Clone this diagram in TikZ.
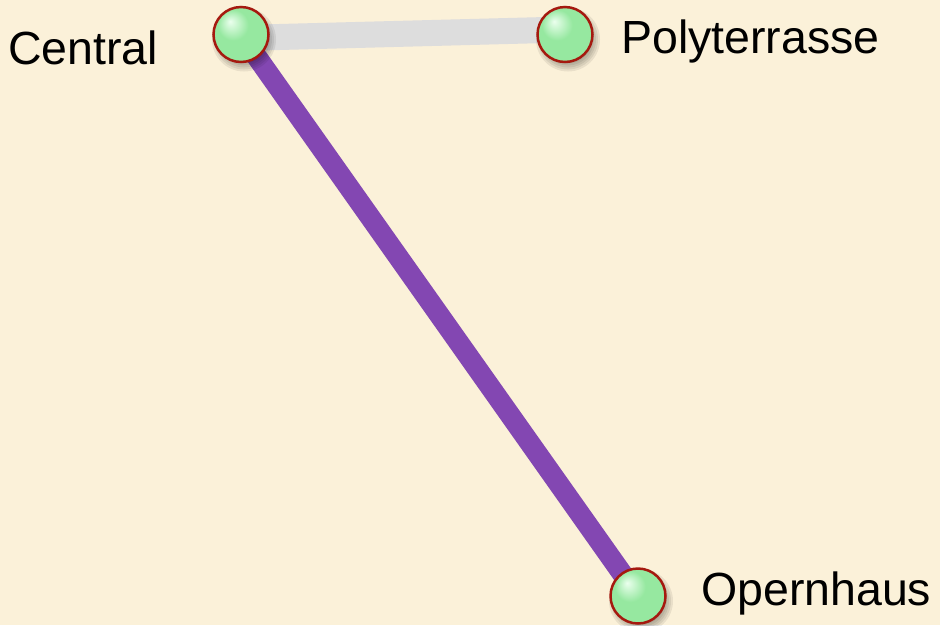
\documentclass[tikz,border=0pt]{standalone}
\usepackage{fontspec}
\setmainfont{Liberation Sans}
\definecolor{bgbeige}{RGB}{251,241,217}
\definecolor{ballG}{RGB}{150,232,160}
\definecolor{ballL}{RGB}{235,255,238}
\definecolor{ballD}{RGB}{125,210,140}
\definecolor{rimred}{RGB}{165,25,15}
\definecolor{purpleedge}{RGB}{131,71,178}
\definecolor{grayedge}{RGB}{221,221,221}
\pgfdeclareradialshading{greenball}{\pgfpoint{-10bp}{12bp}}{%
  color(0bp)=(ballL); color(14bp)=(ballG); color(32bp)=(ballG); color(44bp)=(ballD); color(50bp)=(ballD)}
\pgfdeclarelayer{bg}
\pgfdeclarelayer{edges}
\pgfsetlayers{bg,edges,main}
\tikzset{
  station/.style={circle, minimum size=55pt, inner sep=0pt, draw=rimred, line width=2.5pt,
    shading=greenball},
  lbl/.style={anchor=base west, inner sep=0pt, font=\fontsize{46.5}{52}\selectfont, text=black},
  grayline/.style={line width=26pt, draw=grayedge},
  purpleline/.style={line width=20.5pt, draw=purpleedge},
  shadowdisc/.style={fill=black, fill opacity=0.07},
}
\begin{document}
\begin{tikzpicture}[x=1pt,y=-1pt]
\useasboundingbox (0,0) rectangle (940,625);
\node[station] (central) at (241,34.5) {};
\node[station] (poly) at (565,34.5) {};
\node[station] (opern) at (638,596) {};
\node[lbl] (lcentral) at (8,64) {Central};
\node[lbl] (lpoly) at (621,53) {Polyterrasse};
\node[lbl] (lopern) at (701,605) {Opernhaus};
\begin{pgfonlayer}{bg}
  \fill[bgbeige] (0,0) rectangle (940,625);
\end{pgfonlayer}
\begin{pgfonlayer}{edges}
  \draw[grayline] ([yshift=-3.5pt]central.center) -- ([yshift=5pt]poly.center);
  \draw[purpleline] (central.center) -- (opern.center);
  \foreach \n in {central,poly,opern}{
    \foreach \r in {24,26,28,30,32}{
      \fill[shadowdisc] ([shift={(3pt,-5pt)}]\n.center) circle[radius=\r pt];
    }
  }
\end{pgfonlayer}
\end{tikzpicture}
\end{document}
